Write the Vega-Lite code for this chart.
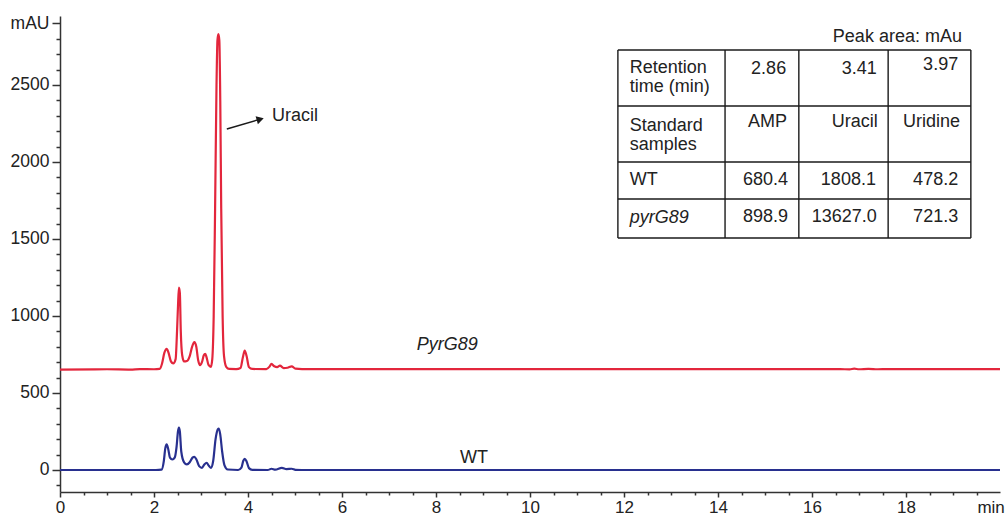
{
  "$schema": "https://vega.github.io/schema/vega-lite/v6.json",
  "width": 940,
  "height": 476,
  "autosize": {"type": "none"},
  "padding": {"left": 60, "top": 16, "right": 8, "bottom": 27},
  "background": "white",
  "config": {
    "view": {"stroke": null},
    "font": "Liberation Sans",
    "axis": {"grid": false}
  },
  "datasets": {
    "trace": [
      {"t": 0, "mAU": 652, "sample": "PyrG89"}, {"t": 1.0, "mAU": 654, "sample": "PyrG89"}, {"t": 1.5, "mAU": 652, "sample": "PyrG89"}, {"t": 1.7, "mAU": 655, "sample": "PyrG89"}, {"t": 2.0, "mAU": 654, "sample": "PyrG89"},
      {"t": 2.12, "mAU": 656, "sample": "PyrG89"}, {"t": 2.17, "mAU": 690, "sample": "PyrG89"}, {"t": 2.22, "mAU": 760, "sample": "PyrG89"}, {"t": 2.27, "mAU": 786, "sample": "PyrG89"}, {"t": 2.31, "mAU": 760, "sample": "PyrG89"},
      {"t": 2.36, "mAU": 705, "sample": "PyrG89"}, {"t": 2.41, "mAU": 692, "sample": "PyrG89"}, {"t": 2.46, "mAU": 720, "sample": "PyrG89"}, {"t": 2.49, "mAU": 900, "sample": "PyrG89"}, {"t": 2.51, "mAU": 1060, "sample": "PyrG89"},
      {"t": 2.53, "mAU": 1185, "sample": "PyrG89"}, {"t": 2.55, "mAU": 1150, "sample": "PyrG89"}, {"t": 2.57, "mAU": 900, "sample": "PyrG89"}, {"t": 2.6, "mAU": 745, "sample": "PyrG89"}, {"t": 2.64, "mAU": 705, "sample": "PyrG89"},
      {"t": 2.7, "mAU": 708, "sample": "PyrG89"}, {"t": 2.76, "mAU": 740, "sample": "PyrG89"}, {"t": 2.81, "mAU": 800, "sample": "PyrG89"}, {"t": 2.86, "mAU": 830, "sample": "PyrG89"}, {"t": 2.9, "mAU": 800, "sample": "PyrG89"},
      {"t": 2.94, "mAU": 712, "sample": "PyrG89"}, {"t": 2.98, "mAU": 680, "sample": "PyrG89"}, {"t": 3.02, "mAU": 700, "sample": "PyrG89"}, {"t": 3.06, "mAU": 745, "sample": "PyrG89"}, {"t": 3.09, "mAU": 754, "sample": "PyrG89"},
      {"t": 3.12, "mAU": 730, "sample": "PyrG89"}, {"t": 3.16, "mAU": 682, "sample": "PyrG89"}, {"t": 3.21, "mAU": 670, "sample": "PyrG89"}, {"t": 3.24, "mAU": 720, "sample": "PyrG89"}, {"t": 3.27, "mAU": 1000, "sample": "PyrG89"},
      {"t": 3.3, "mAU": 1700, "sample": "PyrG89"}, {"t": 3.33, "mAU": 2500, "sample": "PyrG89"}, {"t": 3.35, "mAU": 2790, "sample": "PyrG89"}, {"t": 3.37, "mAU": 2830, "sample": "PyrG89"}, {"t": 3.39, "mAU": 2790, "sample": "PyrG89"},
      {"t": 3.41, "mAU": 2400, "sample": "PyrG89"}, {"t": 3.43, "mAU": 1700, "sample": "PyrG89"}, {"t": 3.46, "mAU": 1000, "sample": "PyrG89"}, {"t": 3.49, "mAU": 740, "sample": "PyrG89"}, {"t": 3.54, "mAU": 668, "sample": "PyrG89"},
      {"t": 3.6, "mAU": 656, "sample": "PyrG89"}, {"t": 3.75, "mAU": 655, "sample": "PyrG89"}, {"t": 3.84, "mAU": 662, "sample": "PyrG89"}, {"t": 3.89, "mAU": 730, "sample": "PyrG89"}, {"t": 3.93, "mAU": 776, "sample": "PyrG89"},
      {"t": 3.97, "mAU": 740, "sample": "PyrG89"}, {"t": 4.02, "mAU": 668, "sample": "PyrG89"}, {"t": 4.09, "mAU": 656, "sample": "PyrG89"}, {"t": 4.39, "mAU": 655, "sample": "PyrG89"}, {"t": 4.46, "mAU": 672, "sample": "PyrG89"},
      {"t": 4.5, "mAU": 689, "sample": "PyrG89"}, {"t": 4.56, "mAU": 673, "sample": "PyrG89"}, {"t": 4.62, "mAU": 668, "sample": "PyrG89"}, {"t": 4.68, "mAU": 677, "sample": "PyrG89"}, {"t": 4.76, "mAU": 662, "sample": "PyrG89"},
      {"t": 4.84, "mAU": 664, "sample": "PyrG89"}, {"t": 4.93, "mAU": 673, "sample": "PyrG89"}, {"t": 5.01, "mAU": 658, "sample": "PyrG89"}, {"t": 5.15, "mAU": 655, "sample": "PyrG89"}, {"t": 10, "mAU": 655, "sample": "PyrG89"},
      {"t": 16.6, "mAU": 655, "sample": "PyrG89"}, {"t": 16.8, "mAU": 653, "sample": "PyrG89"}, {"t": 16.9, "mAU": 658, "sample": "PyrG89"}, {"t": 17.0, "mAU": 654, "sample": "PyrG89"}, {"t": 17.2, "mAU": 657, "sample": "PyrG89"},
      {"t": 17.4, "mAU": 654, "sample": "PyrG89"}, {"t": 17.6, "mAU": 655, "sample": "PyrG89"}, {"t": 20, "mAU": 655, "sample": "PyrG89"},
      {"t": 0, "mAU": 0, "sample": "WT"}, {"t": 2.04, "mAU": 0, "sample": "WT"}, {"t": 2.16, "mAU": 2, "sample": "WT"}, {"t": 2.21, "mAU": 60, "sample": "WT"}, {"t": 2.24, "mAU": 140, "sample": "WT"},
      {"t": 2.27, "mAU": 166, "sample": "WT"}, {"t": 2.3, "mAU": 140, "sample": "WT"}, {"t": 2.34, "mAU": 80, "sample": "WT"}, {"t": 2.39, "mAU": 68, "sample": "WT"}, {"t": 2.44, "mAU": 80, "sample": "WT"},
      {"t": 2.48, "mAU": 150, "sample": "WT"}, {"t": 2.51, "mAU": 250, "sample": "WT"}, {"t": 2.53, "mAU": 275, "sample": "WT"}, {"t": 2.55, "mAU": 250, "sample": "WT"}, {"t": 2.58, "mAU": 120, "sample": "WT"},
      {"t": 2.64, "mAU": 50, "sample": "WT"}, {"t": 2.7, "mAU": 36, "sample": "WT"}, {"t": 2.76, "mAU": 50, "sample": "WT"}, {"t": 2.82, "mAU": 80, "sample": "WT"}, {"t": 2.86, "mAU": 86, "sample": "WT"},
      {"t": 2.9, "mAU": 70, "sample": "WT"}, {"t": 2.96, "mAU": 25, "sample": "WT"}, {"t": 3.02, "mAU": 14, "sample": "WT"}, {"t": 3.07, "mAU": 35, "sample": "WT"}, {"t": 3.12, "mAU": 47, "sample": "WT"},
      {"t": 3.16, "mAU": 30, "sample": "WT"}, {"t": 3.21, "mAU": 14, "sample": "WT"}, {"t": 3.26, "mAU": 60, "sample": "WT"}, {"t": 3.31, "mAU": 200, "sample": "WT"}, {"t": 3.36, "mAU": 265, "sample": "WT"},
      {"t": 3.38, "mAU": 269, "sample": "WT"}, {"t": 3.41, "mAU": 230, "sample": "WT"}, {"t": 3.45, "mAU": 120, "sample": "WT"}, {"t": 3.5, "mAU": 30, "sample": "WT"}, {"t": 3.57, "mAU": 3, "sample": "WT"},
      {"t": 3.79, "mAU": 0, "sample": "WT"}, {"t": 3.86, "mAU": 15, "sample": "WT"}, {"t": 3.9, "mAU": 60, "sample": "WT"}, {"t": 3.93, "mAU": 73, "sample": "WT"}, {"t": 3.97, "mAU": 55, "sample": "WT"},
      {"t": 4.02, "mAU": 12, "sample": "WT"}, {"t": 4.09, "mAU": 1, "sample": "WT"}, {"t": 4.42, "mAU": 0, "sample": "WT"}, {"t": 4.5, "mAU": 8, "sample": "WT"}, {"t": 4.58, "mAU": 2, "sample": "WT"},
      {"t": 4.72, "mAU": 14, "sample": "WT"}, {"t": 4.82, "mAU": 6, "sample": "WT"}, {"t": 4.93, "mAU": 8, "sample": "WT"}, {"t": 5.01, "mAU": 1, "sample": "WT"}, {"t": 5.14, "mAU": 0, "sample": "WT"},
      {"t": 20, "mAU": 0, "sample": "WT"}
    ],
    "segments": [
      {"role": "grid", "t1": 11.87, "t2": 11.87, "a1": 1506, "a2": 2727},
      {"role": "grid", "t1": 14.15, "t2": 14.15, "a1": 1506, "a2": 2727},
      {"role": "grid", "t1": 15.72, "t2": 15.72, "a1": 1506, "a2": 2727},
      {"role": "grid", "t1": 17.62, "t2": 17.62, "a1": 1506, "a2": 2727},
      {"role": "grid", "t1": 19.38, "t2": 19.38, "a1": 1506, "a2": 2727},
      {"role": "grid", "t1": 11.87, "t2": 19.38, "a1": 2727, "a2": 2727},
      {"role": "grid", "t1": 11.87, "t2": 19.38, "a1": 2364, "a2": 2364},
      {"role": "grid", "t1": 11.87, "t2": 19.38, "a1": 2000, "a2": 2000},
      {"role": "grid", "t1": 11.87, "t2": 19.38, "a1": 1760, "a2": 1760},
      {"role": "grid", "t1": 11.87, "t2": 19.38, "a1": 1506, "a2": 1506},
      {"role": "arrow", "t1": 3.55, "t2": 4.26, "a1": 2214, "a2": 2278}
    ],
    "labels": [
      {"role": "header", "t": 12.12, "a": 2610, "text": "Retention"},
      {"role": "header", "t": 12.12, "a": 2487, "text": "time (min)"},
      {"role": "header", "t": 12.12, "a": 2234, "text": "Standard"},
      {"role": "header", "t": 12.12, "a": 2110, "text": "samples"},
      {"role": "header", "t": 12.12, "a": 1883, "text": "WT"},
      {"role": "header", "t": 12.12, "a": 1636, "text": "pyrG89"},
      {"role": "cell", "t": 15.45, "a": 2604, "text": "2.86"},
      {"role": "cell", "t": 17.38, "a": 2604, "text": "3.41"},
      {"role": "cell", "t": 19.11, "a": 2630, "text": "3.97"},
      {"role": "cell", "t": 15.47, "a": 2260, "text": "AMP"},
      {"role": "cell", "t": 17.40, "a": 2260, "text": "Uracil"},
      {"role": "cell", "t": 19.15, "a": 2260, "text": "Uridine"},
      {"role": "cell", "t": 15.49, "a": 1883, "text": "680.4"},
      {"role": "cell", "t": 17.36, "a": 1883, "text": "1808.1"},
      {"role": "cell", "t": 19.11, "a": 1883, "text": "478.2"},
      {"role": "cell", "t": 15.49, "a": 1643, "text": "898.9"},
      {"role": "cell", "t": 17.38, "a": 1643, "text": "13627.0"},
      {"role": "cell", "t": 19.11, "a": 1643, "text": "721.3"},
      {"role": "cell", "t": 19.19, "a": 2812, "text": "Peak area: mAu"},
      {"role": "annotation", "t": 4.51, "a": 2299, "text": "Uracil"},
      {"role": "annotation", "t": 8.51, "a": 76, "text": "WT"},
      {"role": "annotation", "t": 7.59, "a": 812, "text": "PyrG89"}
    ]
  },
  "resolve": {"axis": {"x": "independent", "y": "independent"}},
  "layer": [
    {
      "data": {"name": "trace"},
      "mark": {"type": "line", "strokeWidth": 2.2, "interpolate": "monotone"},
      "encoding": {
        "x": {
          "field": "t", "type": "quantitative",
          "scale": {"domain": [0, 20], "nice": false, "zero": false},
          "axis": {
            "orient": "bottom", "title": null,
            "values": [0, 2, 4, 6, 8, 10, 12, 14, 16, 18, 19.8],
            "labelExpr": "datum.value > 19 ? 'min' : datum.label",
            "tickOpacity": {"condition": {"test": "datum.value > 19", "value": 0}, "value": 1},
            "tickSize": 5, "tickWidth": 1.5, "tickColor": "#333",
            "domainColor": "#333", "domainWidth": 1.5,
            "labelFontSize": 17, "labelColor": "#222", "labelPadding": 2,
            "labelFont": "Liberation Sans", "labelFlush": false, "labelOverlap": false
          }
        },
        "y": {
          "field": "mAU", "type": "quantitative",
          "scale": {"domain": [-143, 2948], "nice": false, "zero": false},
          "axis": {
            "orient": "left", "title": null,
            "values": [0, 500, 1000, 1500, 2000, 2500, 2900],
            "format": "d",
            "labelExpr": "datum.value == 2900 ? 'mAU' : datum.label",
            "tickSize": 8, "tickWidth": 1.5, "tickColor": "#333",
            "domainColor": "#333", "domainWidth": 1.5,
            "labelFontSize": 17.5, "labelColor": "#222", "labelPadding": 3,
            "labelFont": "Liberation Sans", "labelFlush": false, "labelOverlap": false
          }
        },
        "color": {
          "field": "sample", "type": "nominal",
          "scale": {"domain": ["PyrG89", "WT"], "range": ["#e3263c", "#28308f"]},
          "legend": null
        }
      }
    },
    {
      "data": {"name": "segments"},
      "mark": {"type": "rule", "color": "#1a1a1a", "strokeWidth": 1.4},
      "encoding": {
        "x": {
          "field": "t1", "type": "quantitative",
          "axis": {
            "orient": "bottom", "title": null, "labels": false, "domain": false,
            "values": [0.5, 1, 1.5, 2.5, 3, 3.5, 4.5, 5, 5.5, 6.5, 7, 7.5, 8.5, 9, 9.5, 10.5, 11, 11.5, 12.5, 13, 13.5, 14.5, 15, 15.5, 16.5, 17, 17.5, 18.5, 19, 19.5],
            "tickSize": 3, "tickWidth": 1.5, "tickColor": "#333"
          }
        },
        "x2": {"field": "t2"},
        "y": {
          "field": "a1", "type": "quantitative",
          "axis": {
            "orient": "left", "title": null, "labels": false, "domain": false,
            "values": [-100, 100, 200, 300, 400, 600, 700, 800, 900, 1100, 1200, 1300, 1400, 1600, 1700, 1800, 1900, 2100, 2200, 2300, 2400, 2600, 2700, 2800],
            "tickSize": 4, "tickWidth": 1.5, "tickColor": "#333"
          }
        },
        "y2": {"field": "a2"}
      }
    },
    {
      "data": {"name": "segments"},
      "transform": [{"filter": "datum.role == 'arrow'"}],
      "mark": {"type": "point", "shape": "triangle-right", "filled": true, "color": "#1a1a1a", "size": 70, "angle": -16, "opacity": 1},
      "encoding": {
        "x": {"field": "t2", "type": "quantitative", "axis": null},
        "y": {"field": "a2", "type": "quantitative", "axis": null}
      }
    },
    {
      "data": {"name": "labels"},
      "transform": [{"filter": "(datum.role == 'header' || datum.role == 'annotation') && datum.text != 'pyrG89' && datum.text != 'PyrG89'"}],
      "mark": {"type": "text", "align": "left", "baseline": "middle", "fontSize": 18, "color": "#222", "font": "Liberation Sans"},
      "encoding": {
        "x": {"field": "t", "type": "quantitative", "axis": null},
        "y": {"field": "a", "type": "quantitative", "axis": null},
        "text": {"field": "text"}
      }
    },
    {
      "data": {"name": "labels"},
      "transform": [{"filter": "datum.text == 'pyrG89' || datum.text == 'PyrG89'"}],
      "mark": {"type": "text", "align": "left", "baseline": "middle", "fontSize": 18, "fontStyle": "italic", "color": "#222", "font": "Liberation Sans"},
      "encoding": {
        "x": {"field": "t", "type": "quantitative", "axis": null},
        "y": {"field": "a", "type": "quantitative", "axis": null},
        "text": {"field": "text"}
      }
    },
    {
      "data": {"name": "labels"},
      "transform": [{"filter": "datum.role == 'cell'"}],
      "mark": {"type": "text", "align": "right", "baseline": "middle", "fontSize": 18, "color": "#222", "font": "Liberation Sans"},
      "encoding": {
        "x": {"field": "t", "type": "quantitative", "axis": null},
        "y": {"field": "a", "type": "quantitative", "axis": null},
        "text": {"field": "text"}
      }
    }
  ]
}
